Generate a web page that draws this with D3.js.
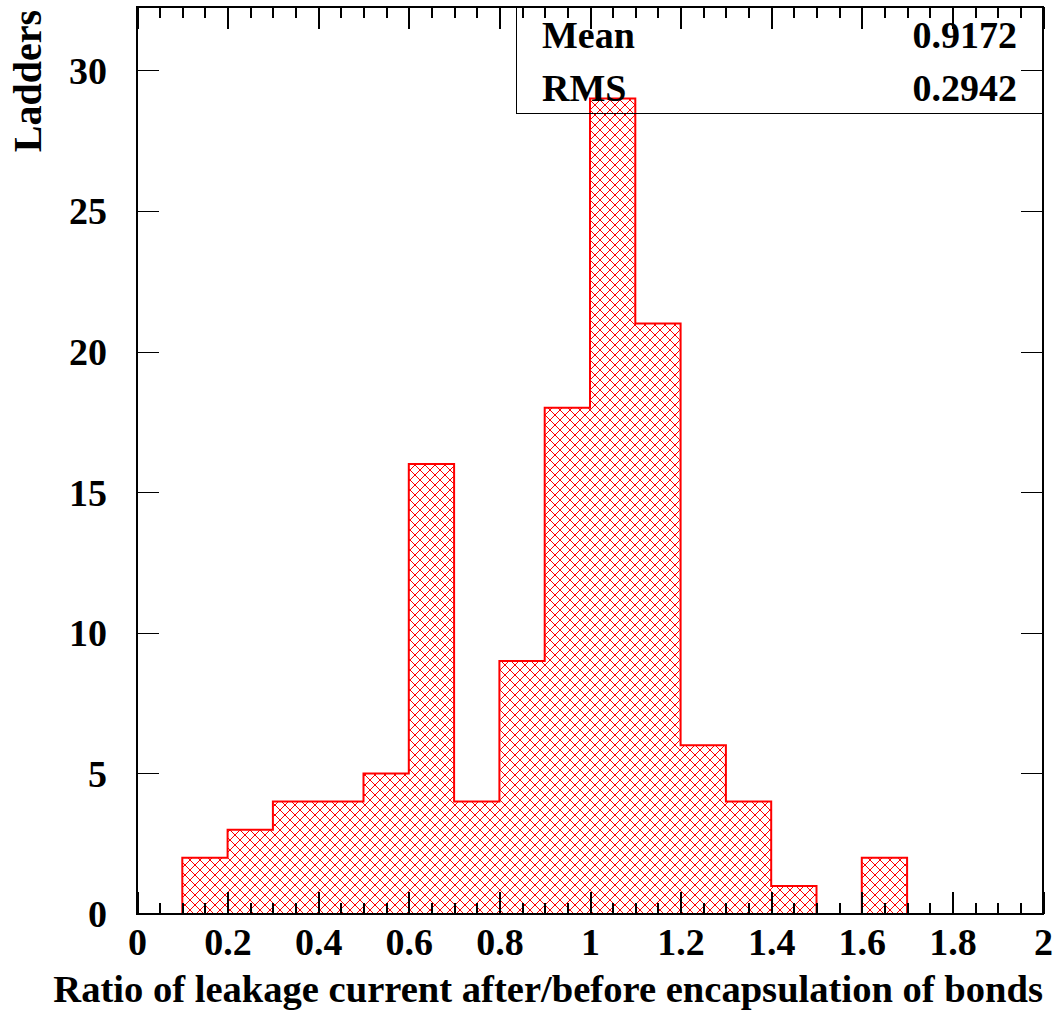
<!DOCTYPE html>
<html>
<head>
<meta charset="utf-8">
<script src="https://cdn.jsdelivr.net/npm/d3@7"></script>
<style>
  body { margin: 0; background: #fff; }
  text { font-family: "Liberation Serif", "Times New Roman", serif; font-weight: bold; }
  line, rect { shape-rendering: crispEdges; }
</style>
</head>
<body>
<svg width="1060" height="1015"></svg>
<script>
// histogram bins (lower edges) and entries per bin
var binEdges = [0, 0.1, 0.2, 0.3, 0.4, 0.5, 0.6, 0.7, 0.8, 0.9, 1.0,
                1.1, 1.2, 1.3, 1.4, 1.5, 1.6, 1.7, 1.8, 1.9, 2.0];
var counts = [0, 2, 3, 4, 4, 5, 16, 4, 9, 18, 29, 21, 6, 4, 1, 0, 2, 0, 0, 0];

var xTicks = [0, 0.2, 0.4, 0.6, 0.8, 1, 1.2, 1.4, 1.6, 1.8, 2];
var yTicks = [0, 5, 10, 15, 20, 25, 30];

var statNames = ["Mean", "RMS"];
var statValues = ["0.9172", "0.2942"];

(function() {

var svg = d3.select("svg");

var padL = 137, padR = 1043, padT = 7, padB = 914;

var x = d3.scaleLinear().domain([0, 2]).range([padL, padR]);
var y = d3.scaleLinear().domain([0, 32.25]).range([padB, padT]);

// cross hatch like root's fill style
var defs = svg.append("defs");
var pat = defs.append("pattern")
    .attr("id", "hatch")
    .attr("patternUnits", "userSpaceOnUse")
    .attr("width", 10)
    .attr("height", 10);
pat.append("path")
    .attr("d", "M-1,-1 L11,11 M11,-1 L-1,11")
    .attr("stroke", "#ff0000")
    .attr("stroke-width", 1)
    .attr("fill", "none");

var pts = binEdges.map(function(e, i) {
  return { e: e, c: i < counts.length ? counts[i] : counts[counts.length - 1] };
});

var area = d3.area()
    .curve(d3.curveStepAfter)
    .x(function(d) { return x(d.e); })
    .y0(y(0))
    .y1(function(d) { return y(d.c); });

var line = d3.line()
    .curve(d3.curveStepAfter)
    .x(function(d) { return x(d.e); })
    .y(function(d) { return y(d.c); });

svg.append("path")
    .datum(pts)
    .attr("d", area)
    .attr("fill", "url(#hatch)");

// outline goes down to the baseline at both ends
var outline = [{ e: 0, c: 0 }].concat(pts);
svg.append("path")
    .datum(outline)
    .attr("d", line)
    .attr("fill", "none")
    .attr("stroke", "#ff0000")
    .attr("stroke-width", 2);

// minor ticks, top and bottom
var minor = d3.range(0, 41).map(function(i) { return i * 0.05; });

svg.append("g")
    .attr("transform", "translate(0," + padB + ")")
    .call(d3.axisBottom(x).tickValues(minor).tickSize(-11).tickFormat(""))
    .call(function(g) { g.select(".domain").remove(); })
    .selectAll("line").attr("stroke", "#000").attr("stroke-width", 2);

svg.append("g")
    .attr("transform", "translate(0," + padT + ")")
    .call(d3.axisTop(x).tickValues(minor).tickSize(-11).tickFormat(""))
    .call(function(g) { g.select(".domain").remove(); })
    .selectAll("line").attr("stroke", "#000").attr("stroke-width", 2);

// major x ticks
var xAxis = svg.append("g")
    .attr("transform", "translate(0," + padB + ")")
    .call(d3.axisBottom(x).tickValues(xTicks).tickSize(-22).tickFormat(d3.format("")));
xAxis.select(".domain").remove();
xAxis.selectAll("line").attr("stroke", "#000").attr("stroke-width", 2);
xAxis.selectAll("text")
    .attr("y", 41)
    .attr("dy", null)
    .attr("fill", "#000")
    .style("font-size", "38px");

svg.append("g")
    .attr("transform", "translate(0," + padT + ")")
    .call(d3.axisTop(x).tickValues(xTicks).tickSize(-22).tickFormat(""))
    .call(function(g) { g.select(".domain").remove(); })
    .selectAll("line").attr("stroke", "#000").attr("stroke-width", 2);

// y axis
var yAxis = svg.append("g")
    .attr("transform", "translate(" + padL + ",0)")
    .call(d3.axisLeft(y).tickValues(yTicks).tickSize(-22).tickPadding(30));
yAxis.select(".domain").remove();
yAxis.selectAll("line").attr("stroke", "#000").attr("stroke-width", 1);
yAxis.selectAll("text")
    .attr("fill", "#000")
    .attr("dy", "0.34em")
    .style("font-size", "38px");

svg.append("g")
    .attr("transform", "translate(" + padR + ",0)")
    .call(d3.axisRight(y).tickValues(yTicks).tickSize(-22).tickFormat(""))
    .call(function(g) { g.select(".domain").remove(); })
    .selectAll("line").attr("stroke", "#000").attr("stroke-width", 1);

// frame
svg.append("rect")
    .attr("x", padL)
    .attr("y", padT)
    .attr("width", padR - padL)
    .attr("height", padB - padT)
    .attr("fill", "none")
    .attr("stroke", "#000")
    .attr("stroke-width", 2);

// axis titles
svg.append("text")
    .attr("x", padR)
    .attr("y", 1002)
    .attr("text-anchor", "end")
    .style("font-size", "38.6px")
    .text("Ratio of leakage current after/before encapsulation of bonds");

svg.append("text")
    .attr("transform", "translate(41," + 10 + ") rotate(-90)")
    .attr("text-anchor", "end")
    .style("font-size", "40px")
    .text("Ladders");

// stats box
svg.append("rect")
    .attr("x", 516)
    .attr("y", padT)
    .attr("width", padR - 516)
    .attr("height", 113 - padT)
    .attr("fill", "none")
    .attr("stroke", "#000")
    .attr("stroke-width", 1);

var stats = svg.append("g").selectAll("g")
    .data(statNames)
    .enter().append("g");

stats.append("text")
    .attr("x", 542)
    .attr("y", function(d, i) { return 48 + i * 53; })
    .style("font-size", "38px")
    .text(function(d) { return d; });

stats.append("text")
    .attr("x", 1017)
    .attr("y", function(d, i) { return 48 + i * 53; })
    .attr("text-anchor", "end")
    .style("font-size", "38px")
    .text(function(d, i) { return statValues[i]; });

})();
</script>
</body>
</html>
